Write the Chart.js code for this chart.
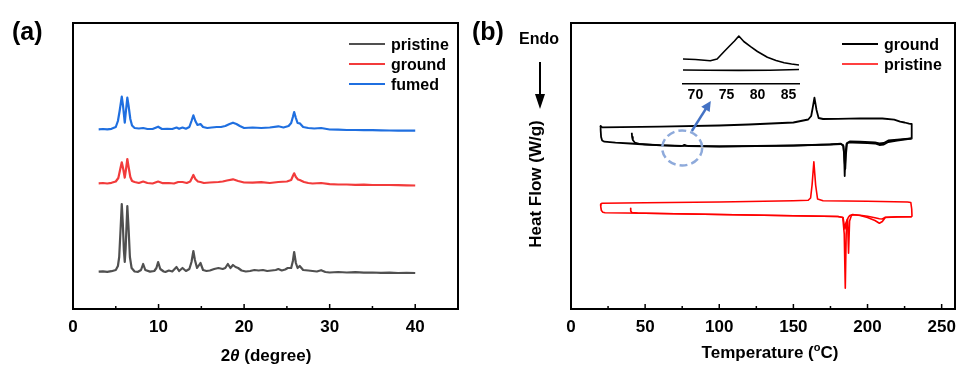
<!DOCTYPE html>
<html>
<head>
<meta charset="utf-8">
<script src="https://cdn.jsdelivr.net/npm/chart.js@4.4.1/dist/chart.umd.min.js"></script>
<style>
body { margin: 0; background: #fff; width: 960px; height: 365px; overflow: hidden; position: relative; }
canvas { position: absolute; }
</style>
</head>
<body>
<canvas id="xrd" width="480" height="365" style="left:0;top:0"></canvas>
<canvas id="dsc" width="520" height="365" style="left:460px;top:0"></canvas>
<canvas id="inset" width="150" height="90" style="left:660px;top:20px"></canvas>
<script>
// ---- (a) XRD patterns, [2theta, intensity a.u. with offset] ----
const xrdPristine = [[3,37.3],[3.5,37.6],[4,37.2],[4.5,37.8],[5,39],[5.25,43],[5.4,52],[5.55,78],[5.7,105],[5.82,86],[5.95,58],[6.05,47],[6.15,60],[6.35,103],[6.5,80],[6.65,52],[6.85,41],[7.2,37.5],[7.6,37.2],[7.95,39],[8.2,45],[8.45,39],[9,37.4],[9.5,38],[9.75,41],[9.95,47],[10.2,40],[10.6,37.5],[10.8,37],[11.2,38.5],[11.6,37.5],[12.1,42],[12.4,38],[12.8,41],[13.2,38],[13.6,40],[13.85,47],[14.07,58],[14.25,49],[14.5,41],[14.9,46],[15.2,39],[15.6,38],[16,38.5],[16.5,40],[17,41],[17.5,40],[17.8,41],[18.1,45],[18.4,41],[18.7,44],[19,42],[19.3,41],[19.7,38.5],[20.2,37.5],[20.7,38],[21.2,39],[21.7,38.5],[22.2,39],[22.7,38],[23.2,38.5],[23.7,39],[24,40],[24.4,38.5],[24.8,39.5],[25.1,41],[25.5,41],[25.7,48],[25.85,57],[26.05,46],[26.25,41],[26.5,43],[26.9,39],[27.5,38.5],[28,38],[28.5,37.5],[29,38.8],[29.5,37],[30,36.5],[31,37],[32,36.5],[33,36.8],[34,36.3],[35,36.5],[36,36.2],[37,36.4],[38,36],[39,36.2],[40,36]];
const xrdGround = [[3,125.7],[3.5,126],[4,125.5],[4.5,126.2],[5,127.5],[5.3,131],[5.5,139],[5.7,146.7],[5.85,141],[6.05,131.3],[6.2,140],[6.35,150],[6.5,142],[6.7,132],[6.9,128],[7.2,127],[7.7,126],[8.2,127.5],[8.7,126],[9.3,125.5],[9.95,127.5],[10.5,125.8],[11.2,126],[11.8,125.5],[12.3,127],[12.8,127],[13.3,126],[13.7,127.5],[13.9,131],[14.07,134],[14.3,130],[14.6,127.5],[14.9,127],[15.3,126],[16,126.5],[17,127],[17.5,127.5],[18,128.5],[18.7,129.7],[19.3,128],[20,126.5],[21,126.3],[22,126.8],[23,126],[24,127],[25,127.5],[25.5,129],[25.7,133],[25.85,135.7],[26.05,132],[26.3,129.5],[26.5,129],[27,127],[27.5,126],[28,125.5],[29,126],[30,124.8],[31,124.5],[32,124.5],[33,124.2],[34,124.3],[35,124],[36,124],[37,124],[38,123.8],[39,123.7],[40,123.5]];
const xrdFumed = [[3,179.7],[3.5,180],[4,179.6],[4.5,180.2],[5,182],[5.25,188],[5.45,198],[5.7,212.3],[5.85,203],[6.05,186.3],[6.2,199],[6.35,211.3],[6.5,203],[6.7,190],[6.9,183.5],[7.2,181],[7.7,180.5],[8.2,181],[8.7,180],[9.3,180],[9.95,182.3],[10.4,180],[11,180.2],[11.6,180],[12.1,181.5],[12.4,180.2],[12.8,181.5],[13.2,180.3],[13.6,182],[13.85,188],[14.07,193.7],[14.3,188],[14.55,184],[14.9,185],[15.2,182],[15.7,181],[16.2,181.5],[16.8,182],[17.3,182],[17.8,183],[18.3,185],[18.7,186.3],[19.1,185],[19.5,183],[20,181],[21,181.5],[22,181],[23,181.5],[24,182.7],[24.6,181.5],[25.2,183],[25.5,186],[25.7,192],[25.85,197],[26.05,191],[26.25,186],[26.5,185.7],[26.9,182],[27.5,181],[28.2,180.5],[29,181],[30,179.5],[31,179.3],[32,179],[33,179],[34,178.8],[35,178.8],[36,178.6],[37,178.5],[38,178.4],[39,178.3],[40,178.3]];
const xrdLabels = ['pristine', 'ground', 'fumed'];
const xrdTicks = [0, 10, 20, 30, 40];

// ---- (b) DSC loops, [temperature, heat flow a.u.] ----
const groundHeat1 = [[41,176.3],[41.2,172],[41.7,169],[43,166.5],[46,165.2],[50,164.7],[60,163.7],[70,163.2],[74,163],[75.5,163.4],[76.5,164.2],[77.5,163.6],[79,163],[100,162.5],[125,162.8],[150,163.3],[175,164.5],[182,165],[183.5,164],[184.2,155],[184.6,133],[185.1,155],[185.8,165],[187,166.3],[190,166.5],[200,166],[205,165.5],[208,164],[211,164.5],[214,167],[220,168.5],[229.6,170.5]];
const groundCool = [[229.6,170.5],[229.9,180],[229.7,185],[228,185.3],[225,186.5],[222,187.3],[218,189.3],[210,190.5],[195,190.7],[180,190.2],[170,190],[167,191],[165.6,199],[164.2,211.3],[163,201],[162,193],[160,189.5],[150,186.5],[120,184.5],[100,183.5],[60,182.3],[21,181.7],[20.2,182.5],[20,183]];
const groundHeat2 = [[20,183],[20,179],[20.3,172],[21,168.5],[22.5,167.3],[30,166.3],[40,165.5],[50,164.5],[60,163.8],[75,163.2],[100,162.6],[150,163.5],[175,164.7],[182,165.3],[183.8,163],[184.5,148],[185,140],[185.5,155],[186.2,166],[188,167.5],[195,167.3],[205,166.5],[208,165.5],[211,166],[214,168.5],[220,169.3],[229.6,170.5]];
const pristineHeat1 = [[40.2,100.7],[40.3,98],[41,96.5],[45,96],[50,95.8],[100,94.5],[150,93.3],[180,92.5],[183.3,91.5],[184.3,75],[185,20.7],[185.6,75],[186.3,89],[187,91.5],[188,93.5],[190,94.5],[195,93.5],[200,91.5],[205,88.5],[208,85.7],[210,87.5],[212,91.5],[220,92],[229.6,92.3],[230,92.3]];
const pristineCool = [[230,92.3],[229.8,100],[229.2,106.5],[227,107],[200,107.8],[170,108.2],[166.3,110],[165,124],[163.8,147.3],[162.6,124],[161.6,111],[160,108.7],[150,108.3],[100,107],[50,106.3],[21,105.7],[20.2,105],[20,104]];
const pristineHeat2 = [[20,104],[20.1,102],[20.5,98.5],[21.5,96.7],[23,96.3],[50,95.8],[100,94.5],[150,93.3],[180,92.5],[183.5,91.5],[184.3,84],[184.8,80],[185.4,86],[186.5,90],[187.2,55.7],[187.9,88],[189,93],[190,94.3],[195,93.7],[200,92.7],[205,91.2],[208,90.2],[210,90],[212,91.7],[220,92.2],[229.6,92.3]];
const dscLabels = ['ground', 'pristine'];
const dscTicks = [0, 50, 100, 150, 200, 250];

// ---- inset: zoom of ground trace near 77 C ----
const insetCool = [[67.9,25],[70,24.5],[72.4,23.3],[73.5,25],[74.6,32.3],[75.5,38],[76.3,43],[77,48],[77.8,42.5],[78.9,37.3],[80,32.5],[81.6,26.7],[83,23.5],[84.3,21.3],[85.5,20],[86.7,19]];
const insetHeat = [[67.9,14],[72,13.8],[77,13.6],[82,13.8],[86.7,14.5]];
const insetTicks = [70, 75, 80, 85];

const FONT = '"Liberation Sans", Arial, sans-serif';
Chart.defaults.font.family = FONT;
Chart.defaults.color = '#000';

const pts = arr => arr.map(p => ({x: p[0], y: p[1]}));
const line = (data, color, width, label) => ({
	label: label, data: pts(data), borderColor: color, borderWidth: width,
	pointRadius: 0, tension: 0, fill: false, borderJoinStyle: 'round'
});

// frame, inward ticks, titles and legend
function decorations(o) {
	return {
		id: 'decor',
		afterDraw(chart) {
			const {ctx, chartArea: a} = chart;
			const xs = chart.scales.x;
			ctx.save();
			ctx.strokeStyle = '#000';
			ctx.lineWidth = 2;
			ctx.strokeRect(a.left, a.top, a.right - a.left, a.bottom - a.top);
			ctx.lineWidth = 1.5;
			for (let v = 0; v <= xs.max; v += o.minor) {
				const px = xs.getPixelForValue(v);
				const len = v % o.major === 0 ? 5 : 3;
				ctx.beginPath();
				ctx.moveTo(px, a.bottom);
				ctx.lineTo(px, a.bottom - len);
				ctx.stroke();
			}
			ctx.fillStyle = '#000';
			ctx.font = 'bold 25px ' + FONT;
			ctx.fillText(o.tag, 12, 40);
			// legend
			ctx.font = 'bold 16px ' + FONT;
			o.legend.forEach((l, i) => {
				const y = o.legendY + i * 20;
				ctx.strokeStyle = l.color;
				ctx.lineWidth = l.width;
				ctx.beginPath();
				ctx.moveTo(o.legendX, y);
				ctx.lineTo(o.legendX + 36, y);
				ctx.stroke();
				ctx.fillText(l.label, o.legendX + 42, y + 6);
			});
			o.extra(ctx, chart);
			ctx.restore();
		}
	};
}

function runs(parts, y) {
	// draw a title made of [text, font, dy] pieces, centred on x
	return function (ctx, cx) {
		let w = 0;
		parts.forEach(p => { ctx.font = p[1]; w += ctx.measureText(p[0]).width; });
		let x = cx - w / 2;
		parts.forEach(p => {
			ctx.font = p[1];
			ctx.fillText(p[0], x, y + (p[2] || 0));
			x += ctx.measureText(p[0]).width;
		});
	};
}

const xrdColors = ['#505050', '#f23b3b', '#1f6fe0'];

new Chart(document.getElementById('xrd'), {
	type: 'line',
	data: {
		datasets: [
			line(xrdPristine, xrdColors[0], 2.2, xrdLabels[0]),
			line(xrdGround, xrdColors[1], 2.2, xrdLabels[1]),
			line(xrdFumed, xrdColors[2], 2.2, xrdLabels[2])
		]
	},
	options: {
		responsive: false, animation: false, devicePixelRatio: 1,
		layout: {padding: {left: 73, right: 22, top: 23, bottom: 0}},
		plugins: {legend: {display: false}, tooltip: {enabled: false}},
		scales: {
			x: {
				type: 'linear', min: 0, max: 45,
				afterBuildTicks: s => { s.ticks = xrdTicks.map(v => ({value: v})); },
				afterFit: s => { s.height = 56; },
				grid: {display: false, drawTicks: false}, border: {display: false},
				ticks: {padding: 8, font: {size: 17, weight: 'bold'}, color: '#000'}
			},
			y: {display: false, min: 0, max: 286}
		}
	},
	plugins: [decorations({
		tag: '(a)', major: 10, minor: 5, legendX: 349, legendY: 44,
		legend: xrdLabels.map((l, i) => ({label: l, color: xrdColors[i], width: 2})),
		extra(ctx, chart) {
			runs([['2', 'bold 17px ' + FONT], ['\u03b8', 'italic bold 17px ' + FONT], [' (degree)', 'bold 17px ' + FONT]], 361)(ctx, 266);
		}
	})]
});

// DSC canvas starts at page x = 460 (wider than the page so the last label never squeezes the plot)
new Chart(document.getElementById('dsc'), {
	type: 'line',
	data: {
		datasets: [
			line(groundHeat1, '#000', 1.8, dscLabels[0]),
			line(groundCool, '#000', 1.8, dscLabels[0]),
			line(groundHeat2, '#000', 1.8, dscLabels[0]),
			line(pristineHeat1, '#ff0000', 1.6, dscLabels[1]),
			line(pristineCool, '#ff0000', 1.6, dscLabels[1]),
			line(pristineHeat2, '#ff0000', 1.6, dscLabels[1])
		]
	},
	options: {
		responsive: false, animation: false, devicePixelRatio: 1,
		layout: {padding: {left: 111, right: 25, top: 23, bottom: 0}},
		plugins: {legend: {display: false}, tooltip: {enabled: false}},
		scales: {
			x: {
				type: 'linear', min: 0, max: 259,
				afterBuildTicks: s => { s.ticks = dscTicks.map(v => ({value: v})); },
				afterFit: s => { s.height = 56; },
				grid: {display: false, drawTicks: false}, border: {display: false},
				ticks: {padding: 8, font: {size: 17, weight: 'bold'}, color: '#000'}
			},
			y: {display: false, min: 0, max: 286}
		}
	},
	plugins: [decorations({
		tag: '(b)', major: 50, minor: 25, legendX: 382, legendY: 44,
		legend: [{label: dscLabels[0], color: '#000', width: 2.2}, {label: dscLabels[1], color: '#ff0000', width: 1.6}],
		extra(ctx, chart) {
			const xs = chart.scales.x, ys = chart.scales.y;
			const b = 'bold 17px ' + FONT;
			runs([['Temperature (', b], ['o', 'bold 11px ' + FONT, -7], ['C)', b]], 358)(ctx, 310);
			ctx.font = 'bold 16px ' + FONT;
			ctx.fillText('Endo', 59, 44);
			// Endo arrow
			ctx.strokeStyle = '#000';
			ctx.lineWidth = 2;
			ctx.beginPath(); ctx.moveTo(80, 62); ctx.lineTo(80, 96); ctx.stroke();
			ctx.beginPath(); ctx.moveTo(75, 94); ctx.lineTo(85, 94); ctx.lineTo(80, 109); ctx.closePath(); ctx.fill();
			// y title
			ctx.save();
			ctx.translate(76, 184);
			ctx.rotate(-Math.PI / 2);
			ctx.font = b;
			ctx.textAlign = 'center';
			ctx.textBaseline = 'middle';
			ctx.fillText('Heat Flow (W/g)', 0, 0);
			ctx.restore();
			// dashed circle around the small 77 C event
			ctx.strokeStyle = '#8eaadb';
			ctx.lineWidth = 2.5;
			ctx.setLineDash([8, 4]);
			ctx.beginPath();
			ctx.ellipse(xs.getPixelForValue(75), ys.getPixelForValue(161), 20, 17.5, 0, 0, Math.PI * 2);
			ctx.stroke();
			ctx.setLineDash([]);
			// arrow to the inset
			const x0 = xs.getPixelForValue(81.5), y0 = ys.getPixelForValue(178);
			const x1 = xs.getPixelForValue(94.3), y1 = ys.getPixelForValue(208);
			const ang = Math.atan2(y1 - y0, x1 - x0);
			ctx.strokeStyle = ctx.fillStyle = '#4472c4';
			ctx.lineWidth = 2.5;
			ctx.beginPath();
			ctx.moveTo(x0, y0);
			ctx.lineTo(x1 - 7 * Math.cos(ang), y1 - 7 * Math.sin(ang));
			ctx.stroke();
			ctx.beginPath();
			ctx.moveTo(x1, y1);
			ctx.lineTo(x1 - 10 * Math.cos(ang) + 5 * Math.sin(ang), y1 - 10 * Math.sin(ang) - 5 * Math.cos(ang));
			ctx.lineTo(x1 - 10 * Math.cos(ang) - 5 * Math.sin(ang), y1 - 10 * Math.sin(ang) + 5 * Math.cos(ang));
			ctx.closePath();
			ctx.fill();
		}
	})]
});

new Chart(document.getElementById('inset'), {
	type: 'line',
	data: {
		datasets: [line(insetCool, '#000', 1.6, 'ground'), line(insetHeat, '#000', 1.6, 'ground')]
	},
	options: {
		responsive: false, animation: false, devicePixelRatio: 1,
		layout: {padding: {left: 23, right: 11, top: 10, bottom: 0}},
		plugins: {legend: {display: false}, tooltip: {enabled: false}},
		scales: {
			x: {
				type: 'linear', min: 68, max: 86.7,
				afterBuildTicks: s => { s.ticks = insetTicks.map(v => ({value: v})); },
				afterFit: s => { s.height = 26; },
				grid: {display: false, drawTicks: false},
				border: {display: true, color: '#000', width: 1.6},
				ticks: {padding: 3, font: {size: 14, weight: 'bold'}, color: '#000'}
			},
			y: {display: false, min: 0, max: 54}
		}
	}
});
</script>
</body>
</html>
